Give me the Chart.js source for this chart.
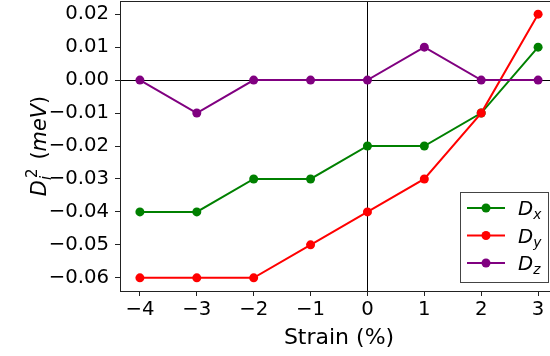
<!DOCTYPE html>
<html>
<head>
<meta charset="utf-8">
<script src="https://cdn.jsdelivr.net/npm/chart.js@4/dist/chart.umd.min.js"></script>
<style>
  html, body { margin: 0; padding: 0; background: #fff; overflow: hidden; }
  #wrap { width: 550px; height: 356px; overflow: hidden; }
  canvas { display: block; }
</style>
</head>
<body>
<div id="wrap"><canvas id="c" width="560" height="356"></canvas></div>
<script>
// Strain values (%) and the anisotropy terms for each direction (meV)
const strain = [-4, -3, -2, -1, 0, 1, 2, 3];
const dX = [-0.04, -0.04, -0.03, -0.03, -0.02, -0.02, -0.01, 0.01];
const dY = [-0.06, -0.06, -0.06, -0.05, -0.04, -0.03, -0.01, 0.02];
const dZ = [0.00, -0.01, 0.00, 0.00, 0.00, 0.01, 0.00, 0.00];
const seriesNames = ['x', 'y', 'z'];
const yTicks = [-0.06, -0.05, -0.04, -0.03, -0.02, -0.01, 0.00, 0.01, 0.02];
const xTicks = [-4, -3, -2, -1, 0, 1, 2, 3];

const FONT = 'DejaVu Sans';
const FS = 19.7;      // tick labels and legend
const FT = 22;        // axis titles

function pts(ys) { return strain.map((x, i) => ({ x: x, y: ys[i] })); }

function ds(label, ys, color, order) {
  return {
    label: label, data: pts(ys), borderColor: color, backgroundColor: color,
    pointBackgroundColor: color, pointBorderColor: color,
    borderWidth: 2, pointRadius: 4.5, pointHoverRadius: 4.5, pointBorderWidth: 0,
    tension: 0, order: order, clip: false
  };
}

// Frame around the axes (top, left, bottom)
const framePlugin = {
  id: 'frame',
  afterDraw(chart) {
    const { ctx, chartArea: a } = chart;
    ctx.save();
    ctx.strokeStyle = '#222';
    ctx.lineWidth = 1;
    ctx.strokeRect(Math.round(a.left) + 0.5, Math.round(a.top) + 0.5,
                   Math.round(a.right - a.left), Math.round(a.bottom - a.top));
    ctx.restore();
  }
};

// Rotated y-axis title with sub/superscript
const yTitlePlugin = {
  id: 'ytitle',
  afterDraw(chart) {
    const { ctx, chartArea: a } = chart;
    const big = FT * 0.95, small = FT * 0.68;
    const fD = 'italic ' + big + 'px "' + FONT + '"';
    const fSub = 'italic ' + small + 'px "' + FONT + '"';
    const fSup = small + 'px "' + FONT + '"';
    const fUp = big + 'px "' + FONT + '"';
    ctx.save();
    ctx.font = fD; const wD = ctx.measureText('D').width;
    ctx.font = fSub; const wI = ctx.measureText('i').width;
    ctx.font = fSup; const w2 = ctx.measureText('2').width;
    ctx.font = fUp; const wL = ctx.measureText('(').width, wR = ctx.measureText(')').width;
    ctx.font = fD; const wM = ctx.measureText('meV').width;
    const gap = 9;
    const total = wD + 2 + Math.max(wI, w2) + gap + wL + wM + wR;
    ctx.translate(46, (a.top + a.bottom) / 2);
    ctx.rotate(-Math.PI / 2);
    ctx.fillStyle = '#000';
    ctx.textBaseline = 'alphabetic';
    let x = -total / 2;
    ctx.font = fD; ctx.fillText('D', x, 0); x += wD + 2;
    ctx.font = fSub; ctx.fillText('i', x - 2, 5);
    ctx.font = fSup; ctx.fillText('2', x, -9);
    x += Math.max(wI, w2) + gap;
    ctx.font = fUp; ctx.fillText('(', x, 0); x += wL;
    ctx.font = fD; ctx.fillText('meV', x, 0); x += wM;
    ctx.font = fUp; ctx.fillText(')', x, 0);
    ctx.restore();
  }
};

// Legend box in the lower right with subscripted labels
const legendPlugin = {
  id: 'legendBox',
  afterDraw(chart) {
    const { ctx } = chart;
    const bx = 460.5, by = 192.5, bw = 88, bh = 90;
    ctx.save();
    ctx.fillStyle = 'rgba(255,255,255,0.85)';
    ctx.strokeStyle = '#444';
    ctx.lineWidth = 1;
    ctx.fillRect(bx, by, bw, bh);
    ctx.strokeRect(bx, by, bw, bh);
    const rows = [208, 235.5, 263];
    chart.data.datasets.forEach((d, i) => {
      const y = rows[i];
      ctx.strokeStyle = d.borderColor;
      ctx.lineWidth = 2;
      ctx.beginPath(); ctx.moveTo(467, y); ctx.lineTo(505, y); ctx.stroke();
      ctx.fillStyle = d.borderColor;
      ctx.beginPath(); ctx.arc(486, y, 4.5, 0, Math.PI * 2); ctx.fill();
      ctx.fillStyle = '#000';
      ctx.textBaseline = 'alphabetic';
      ctx.font = 'italic ' + FS + 'px "' + FONT + '"';
      ctx.fillText('D', 518, y + 7);
      const w = ctx.measureText('D').width;
      ctx.font = 'italic ' + (FS * 0.7) + 'px "' + FONT + '"';
      ctx.fillText(seriesNames[i], 518 + w, y + 11);
    });
    ctx.restore();
  }
};

const zeroLine = (c) => (c.tick && Math.abs(c.tick.value) < 1e-9) ? '#000' : 'rgba(0,0,0,0)';

new Chart(document.getElementById('c'), {
  type: 'line',
  data: {
    datasets: [
      ds('Dx', dX, '#008000', 3),
      ds('Dy', dY, '#ff0000', 2),
      ds('Dz', dZ, '#800080', 1)
    ]
  },
  options: {
    responsive: false,
    devicePixelRatio: 1,
    animation: false,
    layout: { autoPadding: false, padding: { left: 0, top: 1, right: 2, bottom: 0 } },
    plugins: { legend: { display: false }, tooltip: { enabled: false } },
    scales: {
      x: {
        type: 'linear', min: -4.35, max: 3.35,
        afterBuildTicks: (s) => { s.ticks = xTicks.map(v => ({ value: v })); },
        afterFit: (s) => { s.height = 65; s.paddingLeft = 0; s.paddingRight = 0; },
        border: { display: false },
        grid: { color: zeroLine, lineWidth: 1, tickColor: '#222', tickLength: 5, drawTicks: true },
        ticks: { color: '#000', font: { family: FONT, size: FS }, padding: 2,
                 maxRotation: 0, autoSkip: false,
                 callback: (v) => (v < 0 ? '\u2212' + Math.abs(v) : String(v)) },
        title: { display: true, text: 'Strain (%)', color: '#000',
                 font: { family: FONT, size: FT }, padding: { top: 0, bottom: 5 } }
      },
      y: {
        type: 'linear', min: -0.064, max: 0.024,
        afterBuildTicks: (s) => { s.ticks = yTicks.map(v => ({ value: v })); },
        afterFit: (s) => { s.width = 120; s.paddingTop = 0; s.paddingBottom = 0; },
        border: { display: false },
        grid: { color: zeroLine, lineWidth: 1, tickColor: '#222', tickLength: 5, drawTicks: true },
        ticks: { color: '#000', font: { family: FONT, size: FS }, padding: 6, autoSkip: false,
                 callback: (v) => (v < -1e-9 ? '\u2212' + Math.abs(v).toFixed(2) : Math.abs(v).toFixed(2)) }
      }
    }
  },
  plugins: [framePlugin, yTitlePlugin, legendPlugin]
});
</script>
</body>
</html>
